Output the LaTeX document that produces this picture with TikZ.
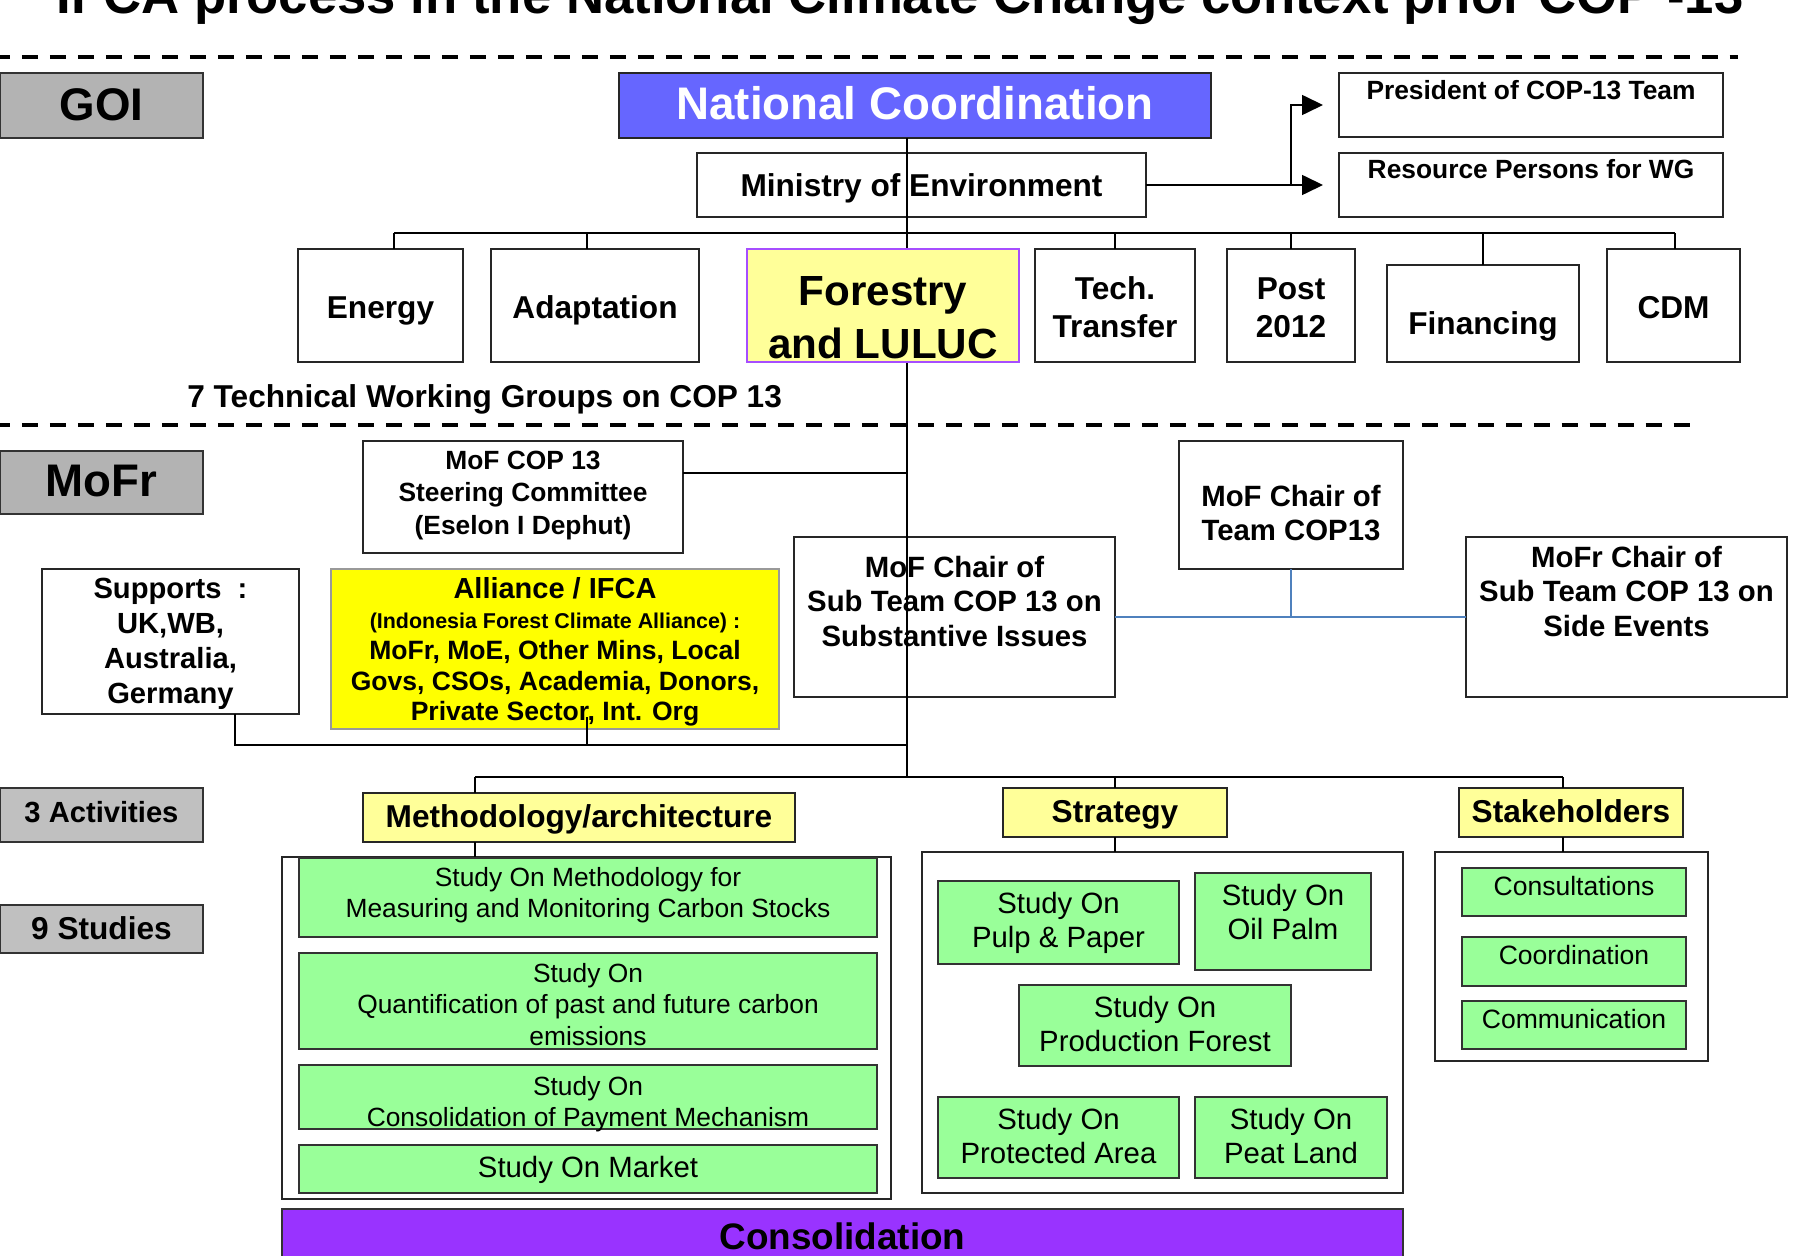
\documentclass[tikz,border=0pt]{standalone}
\usepackage{fontspec}
\setmainfont{Liberation Sans}
\usetikzlibrary{arrows.meta}
\newdimen\pxu \pxu=0.02cm
\definecolor{gA}{HTML}{B3B3B3}
\definecolor{gB}{HTML}{C0C0C0}
\definecolor{ncb}{HTML}{6666FF}
\definecolor{ly}{HTML}{FFFF99}
\definecolor{yy}{HTML}{FFFF00}
\definecolor{gr}{HTML}{99FF99}
\definecolor{pu}{HTML}{9933FF}
\definecolor{pb}{HTML}{A64DFF}
\definecolor{bl}{HTML}{4F81BD}
\newcommand\fsz[2]{\fontsize{#1}{#2}\selectfont}
% style, x1, y1, x2, y2, name, first baseline, text
\newcommand\bx[8]{%
  \pgfmathsetmacro\rz{(#3+#5)/2-#7}%
  \node[#1, minimum width={(#4-#2)*0.02cm}, minimum height={(#5-#3)*0.02cm}]
    (#6) at ({(#2+#4)/2},{(#3+#5)/2})
    {\raisebox{\rz\pxu}[0pt][0pt]{\begin{tabular}[t]{@{}c@{}}#8\end{tabular}}};}
\begin{document}
\begin{tikzpicture}[x=0.02cm,y=-0.02cm,
  base/.style={inner sep=0pt, outer sep=0pt, line width=1.1pt},
  bxs/.style={base, draw=black!85, fill=white},
  lab/.style={base, draw=black!80},
  grn/.style={base, draw=black!80, fill=gr},
  conn/.style={draw=black, line width=0.9pt},
  blu/.style={draw=bl, line width=0.9pt},
  arr/.style={conn, -{Triangle[length=0.42cm,width=0.4cm]}, shorten >=0.32cm},
  dsh/.style={line width=2.3pt, dash pattern=on 0.32cm off 0.24cm, dash phase=0.12cm}]
\useasboundingbox (0,0) rectangle (1811,1256);
\fill[white] (0,0) rectangle (1811,1256);

\node[font=\fsz{30}{36}\bfseries, anchor=base, inner sep=0pt] (title) at (900,14)
  {IFCA process in the National Climate Change context  prior COP -13};

\draw[dsh] (0,57) -- (1738,57);
\draw[dsh] (0,425) -- (1695,425);

% ---- GOI level
\bx{lab, fill=gA, font=\fsz{26}{30}\bfseries}{0}{73}{203}{138}{goi}{121}{GOI}
\bx{bxs, fill=ncb, text=white, font=\fsz{26}{30}\bfseries}{619}{73}{1211}{138}{nc}{120}{National Coordination}
\bx{bxs, font=\fsz{18}{22}\bfseries}{697}{153}{1146}{217}{mine}{197}{Ministry of Environment}
\bx{bxs, font=\fsz{15}{18}\bfseries}{1339}{73}{1723}{137}{pres}{100}{President of COP-13 Team}
\bx{bxs, font=\fsz{15}{18}\bfseries}{1339}{153}{1723}{217}{res}{179}{Resource Persons for WG}

\bx{bxs, font=\fsz{18}{21.6}\bfseries}{298}{249}{463}{362}{en}{319}{Energy}
\bx{bxs, font=\fsz{18}{21.6}\bfseries}{491}{249}{699}{362}{ad}{319}{Adaptation}
\bx{bxs, font=\fsz{18}{21.6}\bfseries}{1035}{249}{1195}{362}{te}{300}{Tech.\\Transfer}
\bx{bxs, font=\fsz{18}{21.6}\bfseries}{1227}{249}{1355}{362}{po}{300}{Post\\2012}
\bx{bxs, font=\fsz{18}{21.6}\bfseries}{1387}{265}{1579}{362}{fi}{335}{Financing}
\bx{bxs, font=\fsz{18}{21.6}\bfseries}{1607}{249}{1740}{362}{cdm}{319}{CDM}

\node[anchor=base west, font=\fsz{18}{22}\bfseries, inner sep=0pt] (twg) at (187,408)
  {7 Technical Working Groups on COP 13};

% ---- MoFr level
\bx{lab, fill=gA, font=\fsz{26}{30}\bfseries}{0}{451}{203}{514}{mofr}{497}{MoFr}
\bx{bxs, font=\fsz{15}{18.5}\bfseries}{363}{441}{683}{553}{st}{469}{MoF COP 13\\Steering Committee\\(Eselon I Dephut)}
\bx{bxs, font=\fsz{16.6}{20.1}\bfseries}{42}{569}{299}{714}{su}{598}{Supports~~:\\UK,WB,\\Australia,\\Germany}
\bx{base, draw=black!40, fill=yy, font=\fsz{15.1}{17.5}\bfseries}{331}{569}{779}{729}{al}{598}{{\fsz{16.5}{17.5}\bfseries Alliance / IFCA}\\{\fsz{12.2}{17.5}\bfseries (Indonesia Forest Climate Alliance) :}\\MoFr, MoE, Other Mins, Local\\Govs, CSOs, Academia, Donors,\\Private Sector, Int. Org}
\bx{bxs, fill=none, font=\fsz{16.7}{19.9}\bfseries}{794}{537}{1115}{697}{sub}{577}{MoF Chair of\\Sub Team COP 13 on\\Substantive Issues}
\bx{bxs, font=\fsz{16.7}{19.9}\bfseries}{1179}{441}{1403}{569}{tc}{506}{MoF Chair of\\Team COP13}
\bx{bxs, font=\fsz{16.7}{19.9}\bfseries}{1466}{537}{1787}{697}{side}{567}{MoFr Chair of\\Sub Team COP 13 on\\Side Events}

% ---- activities
\bx{lab, fill=gB, font=\fsz{16.6}{20}\bfseries}{0}{788}{203}{842}{act}{822}{3 Activities}
\bx{lab, fill=gB, font=\fsz{18}{21}\bfseries}{0}{905}{203}{953}{stu}{939}{9 Studies}
\bx{bxs, fill=ly, font=\fsz{18}{21}\bfseries}{363}{793}{795}{842}{meth}{827}{Methodology/architecture}
\bx{bxs, fill=ly, font=\fsz{18}{21}\bfseries}{1003}{788}{1227}{837}{strat}{822}{Strategy}
\bx{bxs, fill=ly, font=\fsz{18}{21}\bfseries}{1459}{788}{1683}{837}{stk}{822}{Stakeholders}

\bx{bxs}{282}{857}{891}{1199}{mc}{1028}{}
\bx{bxs}{922}{852}{1403}{1193}{sc}{1022}{}
\bx{bxs}{1435}{852}{1708}{1061}{kc}{956}{}

\bx{grn, font=\fsz{15}{18}}{299}{858}{877}{937}{m1}{886}{Study On Methodology for\\Measuring and Monitoring Carbon Stocks}
\bx{grn, font=\fsz{15}{18}}{299}{953}{877}{1049}{m2}{982}{Study On\\Quantification of past and future carbon\\emissions}
\bx{grn, font=\fsz{15}{18}}{299}{1065}{877}{1129}{m3}{1095}{Study On\\Consolidation of Payment Mechanism}
\bx{grn, font=\fsz{16.7}{19.5}}{299}{1145}{877}{1193}{m4}{1177}{Study On Market}

\bx{grn, font=\fsz{16.7}{19.5}}{938}{881}{1179}{964}{s1}{913}{Study On\\Pulp \& Paper}
\bx{grn, font=\fsz{16.7}{19.5}}{1195}{873}{1371}{970}{s2}{905}{Study On\\Oil Palm}
\bx{grn, font=\fsz{16.7}{19.5}}{1019}{985}{1291}{1066}{s3}{1017}{Study On\\Production Forest}
\bx{grn, font=\fsz{16.7}{19.5}}{938}{1097}{1179}{1178}{s4}{1129}{Study On\\Protected Area}
\bx{grn, font=\fsz{16.7}{19.5}}{1195}{1097}{1387}{1178}{s5}{1129}{Study On\\Peat Land}

\bx{grn, font=\fsz{15.1}{18}}{1462}{868}{1686}{916}{k1}{895}{Consultations}
\bx{grn, font=\fsz{15.1}{18}}{1462}{937}{1686}{986}{k2}{964}{Coordination}
\bx{grn, font=\fsz{15.1}{18}}{1462}{1001}{1686}{1049}{k3}{1028}{Communication}

\bx{base, draw=black!80, fill=pu, font=\fsz{21}{24}\bfseries}{282}{1209}{1403}{1290}{cons}{1249}{Consolidation}

% ---- connectors
\coordinate (actbus) at (907,777);
\coordinate (jx) at (1291,185);
\coordinate (busL) at (394,233);
\coordinate (busR) at (1675,233);
\coordinate (dAd) at (587,233);
\coordinate (stj) at (907,473);
\coordinate (sj) at (235,745);
\coordinate (aj) at (587,745);
\coordinate (aj2) at (587,717);
\coordinate (abL) at (475,777);
\coordinate (abR) at (1563,777);

\draw[conn] (nc.south -| actbus) -- (actbus);
\draw[arr] (mine.east) -- (res.west);
\draw[arr] (jx) |- (pres.west);

\draw[conn] (busL) -- (busR);
\draw[conn] (busL) -- (busL |- en.north);
\draw[conn] (dAd) -- (dAd |- ad.north);
\draw[conn] (te.north |- busL) -- (te.north);
\draw[conn] (po.north |- busL) -- (po.north);
\draw[conn] (fi.north |- busL) -- (fi.north);
\draw[conn] (busR) -- (busR |- cdm.north);

\draw[conn] (st.east |- stj) -- (stj);
\draw[conn] (sj |- su.south) -- (sj) -- (sj -| actbus);
\draw[conn] (aj2) -- (aj);

\draw[blu] (sub.east) -- (side.west);
\draw[blu] (tc.south) -- (tc.south |- sub.east);

\draw[conn] (abL) -- (abR);
\draw[conn] (abL) -- (abL |- meth.north);
\draw[conn] (abL |- meth.south) -- (abL |- mc.north);
\draw[conn] (strat.north |- abL) -- (strat.north);
\draw[conn] (strat.south) -- (strat.south |- sc.north);
\draw[conn] (abR) -- (abR |- stk.north);
\draw[conn] (abR |- stk.south) -- (abR |- kc.north);

% Forestry box drawn over the main line
\bx{base, line width=0.8pt, draw=pb, fill=ly, font=\fsz{24}{29.6}\bfseries}{747}{249}{1019}{362}{fo}{306}{Forestry\\and LULUC}
\end{tikzpicture}
\end{document}
